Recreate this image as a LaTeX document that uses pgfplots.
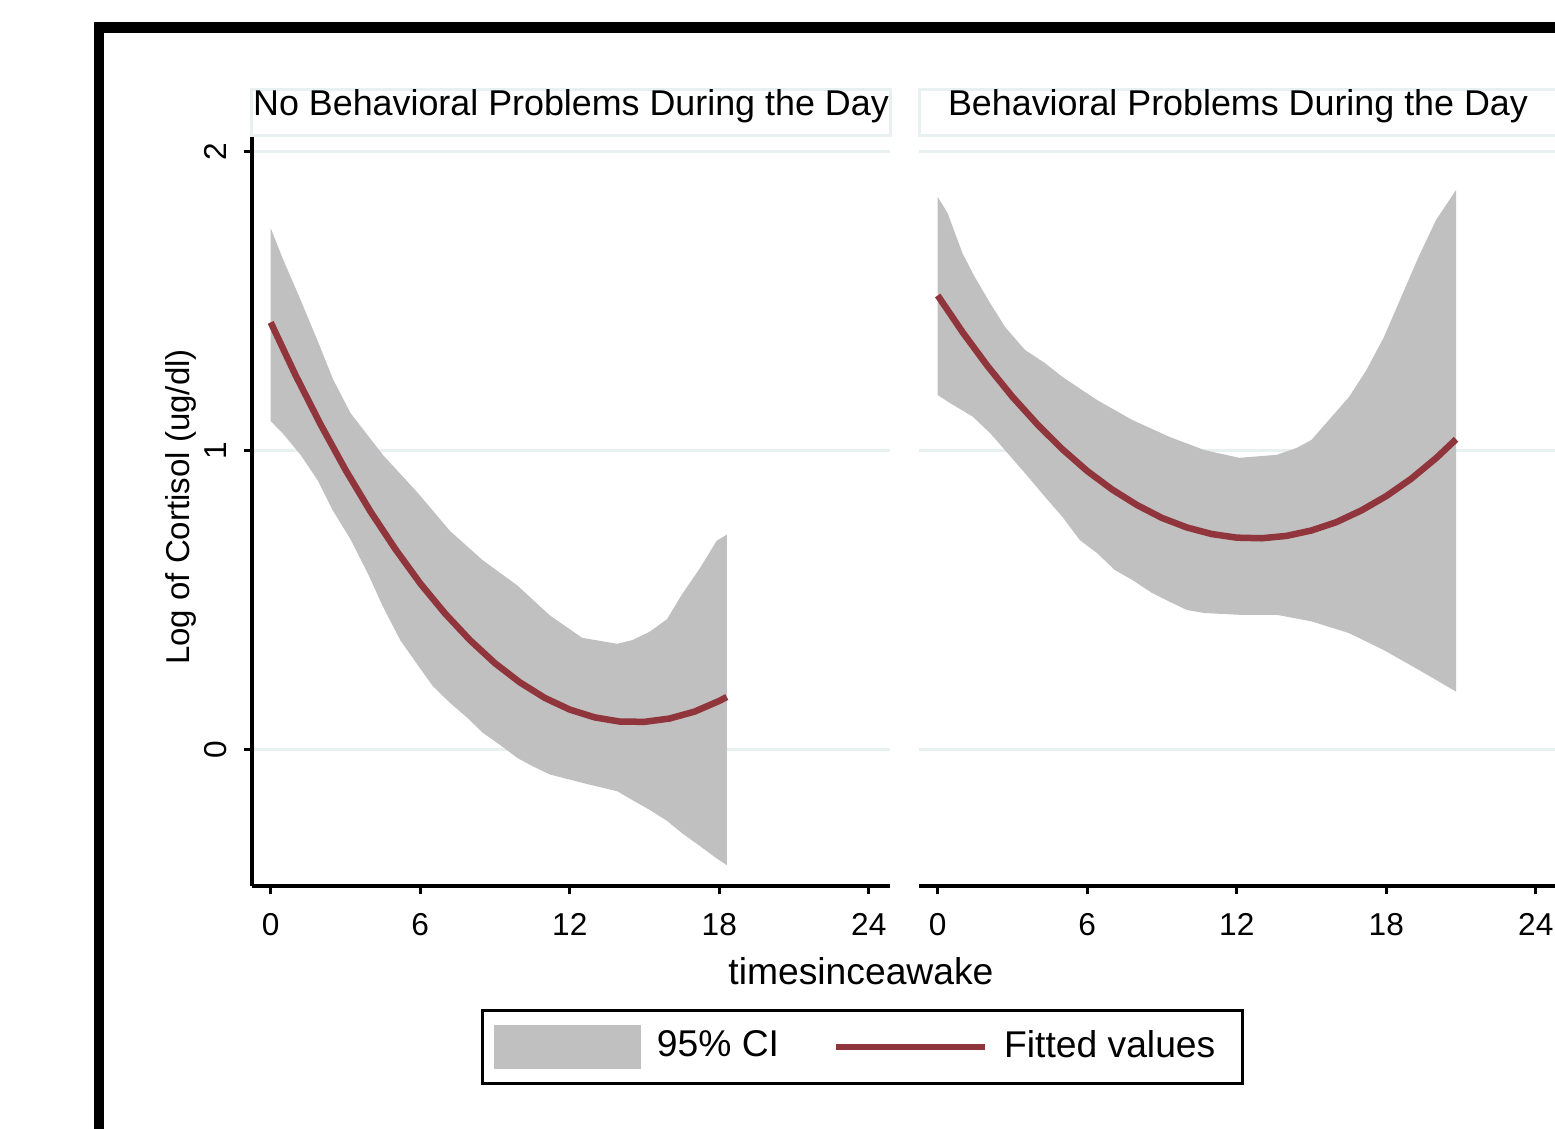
\documentclass[border=0pt]{standalone}
\usepackage{fontspec}
\setmainfont{Liberation Sans}
\usepackage{pgfplots}
\pgfplotsset{compat=1.18}
\definecolor{cigray}{RGB}{192,192,192}
\definecolor{fitred}{RGB}{144,53,59}
\definecolor{gridc}{RGB}{232,240,242}

\pgfplotsset{panel/.style={
  scale only axis, width=6.38cm, height=7.49cm,
  xmin=-0.75, xmax=24.85, ymin=-0.455, ymax=2.05,
  xtick={0,6,12,18,24}, ytick={0,1,2},
  axis x line*=bottom, axis y line*=left,
  axis line style={line width=0.35mm},
  tick style={line width=0.3mm, black},
  major tick length=0.85mm, tick align=outside,
  ymajorgrids, grid style={gridc, line width=0.3mm},
  ticklabel style={font=\fontsize{9}{10}\selectfont},
  /pgf/number format/assume math mode=true,
  xticklabel style={anchor=north, inner sep=0pt},
  xticklabel shift=1.8mm,
  yticklabel style={rotate=90, anchor=south, inner sep=0pt},
  yticklabel shift=1.6mm,
  title style={at={(0.5,1)}, anchor=south, yshift=-2.1mm, draw=gridc,
    line width=0.3mm, fill=white, minimum width=6.38cm, inner xsep=0pt,
    inner ysep=0pt, text height=2.6mm, text depth=2.0mm,
    font=\fontsize{10.2}{12}\selectfont},
}}

\begin{document}
\begin{tikzpicture}
\path[use as bounding box] (0,0) rectangle (15.55,11.28);
\clip (0,0) rectangle (15.55,11.28);
\draw[line width=1.05mm] (0.99,-0.5) -- (0.99,11.005) -- (16,11.005);

% left panel: no behavioral problems
\begin{axis}[panel, at={(2.52cm,2.42cm)}, anchor=south west,
  title={No Behavioral Problems During the Day},
  ylabel={Log of Cortisol (ug/dl)},
  ylabel style={at={(-0.0987,0.506)}, anchor=base,
    font=\fontsize{9.4}{11}\selectfont},
  xlabel={timesinceawake},
  xlabel style={at={(0.9545,-0.132)}, anchor=base,
    font=\fontsize{10.6}{12}\selectfont},
  legend columns=2,
  legend style={at={(0.3597,-0.1636)}, anchor=north west, draw=black,
    line width=0.3mm, inner xsep=1.1mm, inner ysep=1.45mm,
    nodes={inner sep=0pt}, font=\fontsize{10.6}{12}\selectfont,
    /tikz/every odd column/.append style={column sep=1.6mm},
    /tikz/every even column/.append style={column sep=5.4mm}},
]
\addplot[fill=cigray, draw=none, forget plot] coordinates {
  (0,1.745) (0.5,1.64) (1.2,1.505) (1.9,1.365) (2.5,1.24) (3.2,1.127)
  (4.5,0.987) (5.9,0.86) (7.2,0.732) (8.5,0.635) (9.9,0.55) (11.2,0.45)
  (12.5,0.375) (13.9,0.355) (14.5,0.367) (15.2,0.395) (15.9,0.437)
  (16.5,0.52) (17.2,0.605) (17.9,0.70) (18.3,0.72)
  (18.3,-0.385) (17.9,-0.363) (17.2,-0.32) (16.5,-0.278) (15.9,-0.237)
  (15.2,-0.2) (14.5,-0.167) (13.9,-0.138) (12.5,-0.11) (11.2,-0.082)
  (10.5,-0.054) (9.9,-0.027) (9.2,0.017) (8.5,0.058) (7.9,0.107)
  (7.2,0.157) (6.5,0.214) (5.9,0.284) (5.2,0.367) (4.5,0.48) (3.9,0.59)
  (3.2,0.705) (2.5,0.80) (1.9,0.90) (1.2,0.987) (0.5,1.057) (0,1.10)
};
\addplot[fitred, line width=0.65mm, forget plot] coordinates {
  (0,1.430) (1,1.253) (2,1.089) (3,0.937) (4,0.798) (5,0.672) (6,0.557)
  (7,0.456) (8,0.367) (9,0.290) (10,0.226) (11,0.174) (12,0.135)
  (13,0.109) (14,0.095) (15,0.094) (16,0.105) (17,0.128) (18,0.164)
  (18.3,0.177)
};
\addlegendimage{legend image code/.code={
  \fill[cigray] (0mm,-2.05mm) rectangle (14.4mm,2.05mm);}}
\addlegendentry{95\% CI}
\addlegendimage{legend image code/.code={
  \draw[fitred, line width=0.6mm] (0mm,0mm) -- (14.9mm,0mm);}}
\addlegendentry{Fitted values\hspace*{1.6mm}}
\end{axis}

% right panel: behavioral problems
\begin{axis}[panel, at={(9.19cm,2.42cm)}, anchor=south west,
  title={Behavioral Problems During the Day},
  yticklabels={,,}, ytick style={draw=none},
  y axis line style={draw=none},
]
\addplot[fill=cigray, draw=none] coordinates {
  (0,1.85) (0.4,1.795) (1.0,1.66) (1.5,1.58) (2.1,1.495) (2.7,1.415)
  (3.5,1.338) (4.3,1.294) (5.0,1.248) (6.4,1.17) (7.8,1.104) (9.3,1.047)
  (10.7,1.003) (12.1,0.977) (13.6,0.987) (14.4,1.01) (15.0,1.037)
  (15.7,1.104) (16.5,1.18) (17.2,1.27) (17.9,1.38) (18.6,1.515)
  (19.3,1.65) (20.0,1.773) (20.8,1.873)
  (20.8,0.195) (20.0,0.234) (19.3,0.268) (17.9,0.334) (16.5,0.391)
  (15.0,0.43) (14.3,0.441) (13.6,0.452) (12.1,0.452) (10.7,0.458)
  (10.0,0.468) (9.3,0.496) (8.6,0.525) (7.8,0.569) (7.1,0.602)
  (6.4,0.658) (5.7,0.702) (5.0,0.78) (4.3,0.847) (3.5,0.926) (2.8,0.993)
  (2.1,1.06) (1.4,1.115) (0.5,1.16) (0,1.187)
};
\addplot[fitred, line width=0.65mm] coordinates {
  (0,1.520) (1,1.397) (2,1.284) (3,1.181) (4,1.089) (5,1.006) (6,0.933)
  (7,0.871) (8,0.819) (9,0.776) (10,0.744) (11,0.722) (12,0.710)
  (13,0.708) (14,0.716) (15,0.734) (16,0.762) (17,0.801) (18,0.849)
  (19,0.907) (20,0.976) (20.8,1.039)
};
\end{axis}
\end{tikzpicture}
\end{document}
